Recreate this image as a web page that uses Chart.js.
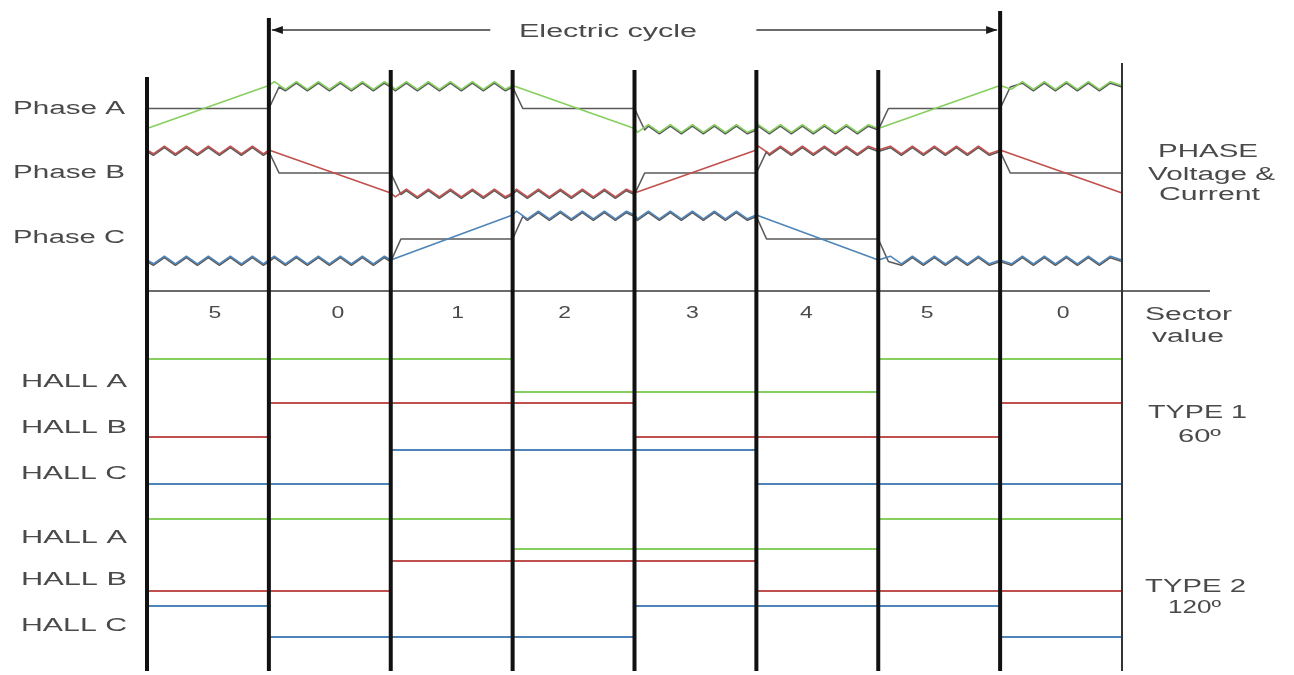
<!DOCTYPE html>
<html>
<head>
<meta charset="utf-8">
<script src="https://cdn.jsdelivr.net/npm/chart.js@4.4.1/dist/chart.umd.min.js"></script>
<style>
  html, body { margin: 0; padding: 0; background: #ffffff; }
  #wrap { width: 1294px; height: 675px; position: relative; }
</style>
</head>
<body>
<div id="wrap"><canvas id="timing"></canvas></div>
<script>
// ---- Data -------------------------------------------------------------
// Electrical angle (degrees) at each sector boundary
const boundaries = [-60, 0, 60, 120, 180, 240, 300, 360, 420];
// Sector number shown inside each 60° slot
const sectorValues = [5, 0, 1, 2, 3, 4, 5, 0];

// Phase voltage level at each boundary: +1 high, -1 low
const phaseAVoltage = [-1, 1, 1, 1, -1, -1, -1, 1, 1];
const phaseBVoltage = [1, 1, -1, -1, -1, 1, 1, 1, -1];
const phaseCVoltage = [-1, -1, -1, 1, 1, 1, -1, -1, -1];

// Phase drive per sector: +1 high side, -1 low side, 0 floating
const phaseADrive = [0, 1, 1, 0, -1, -1, 0, 1];
const phaseBDrive = [1, 0, -1, -1, 0, 1, 1, 0];
const phaseCDrive = [-1, -1, 0, 1, 1, 0, -1, -1];

// Hall sensor states per sector, 60° sensor spacing
const hallA60 = [1, 1, 1, 0, 0, 0, 1, 1];
const hallB60 = [0, 1, 1, 1, 0, 0, 0, 1];
const hallC60 = [0, 0, 1, 1, 1, 0, 0, 0];
// Hall sensor states per sector, 120° sensor spacing
const hallA120 = [1, 1, 1, 0, 0, 0, 1, 1];
const hallB120 = [0, 0, 1, 1, 1, 0, 0, 0];
const hallC120 = [1, 0, 0, 0, 1, 1, 1, 0];

// ---- Layout & style ---------------------------------------------------
// Vertical track placement, in y-scale units (scale runs top to bottom)
const PHASE_TRACK = {
  A: { mid: 107, swing: 21.5 },
  B: { mid: 171.5, swing: 21.5 },
  C: { mid: 237.5, swing: 22.5 }
};
const HALL_TRACK = {
  A60: { high: 359, low: 392 },
  B60: { high: 403, low: 437 },
  C60: { high: 450, low: 484 },
  A120: { high: 519, low: 549 },
  B120: { high: 561, low: 591 },
  C120: { high: 606, low: 637 }
};
const RAMP_DEG = 5;            // commutation slope width of the drive trace
const RIPPLE = { amp: 3.8, period: 22 };
const COLORS = {
  green: '#86cf5e',
  red: '#c0504d',
  blue: '#4f84b8',
  drive: '#5a5a5a',
  ink: '#4a4a4a'
};
const FONT = '"Liberation Sans", Arial, sans-serif';

// ---- Builders ---------------------------------------------------------
const X_MIN = boundaries[0];
const X_MAX = boundaries[boundaries.length - 1];

function voltagePoints(levels, track) {
  return boundaries.map((x, i) => ({ x, y: track.mid - levels[i] * track.swing, level: levels[i] }));
}

function drivePoints(levels, track) {
  const pts = [{ x: boundaries[0], level: levels[0] }];
  for (let i = 1; i < levels.length; i++) {
    const b = boundaries[i];
    if (levels[i] !== levels[i - 1]) {
      pts.push({ x: b, level: levels[i - 1] });
      pts.push({ x: b + RAMP_DEG, level: levels[i] });
    } else {
      pts.push({ x: b, level: levels[i] });
    }
  }
  pts.push({ x: X_MAX, level: levels[levels.length - 1] });
  return pts.map(p => ({ x: p.x, y: track.mid - p.level * track.swing, level: p.level }));
}

function hallPoints(levels, track) {
  const pts = levels.map((v, i) => ({ x: boundaries[i], y: v ? track.high : track.low }));
  pts.push({ x: X_MAX, y: levels[levels.length - 1] ? track.high : track.low });
  return pts;
}

function rippleSet(label, data, color, dy) {
  return { label, data, borderColor: color, ripple: true, rippleShift: dy,
           showLine: false, pointRadius: 0, borderWidth: 1.6 };
}
function hallSet(label, data, color) {
  return { label, data, borderColor: color, stepped: true, showLine: true,
           pointRadius: 0, borderWidth: 2, fill: false };
}

const datasets = [
  rippleSet('Phase A drive', drivePoints(phaseADrive, PHASE_TRACK.A), COLORS.drive, 1.5),
  rippleSet('Phase B drive', drivePoints(phaseBDrive, PHASE_TRACK.B), COLORS.drive, 1.5),
  rippleSet('Phase C drive', drivePoints(phaseCDrive, PHASE_TRACK.C), COLORS.drive, 1.5),
  rippleSet('Phase A voltage', voltagePoints(phaseAVoltage, PHASE_TRACK.A), COLORS.green, 0),
  rippleSet('Phase B voltage', voltagePoints(phaseBVoltage, PHASE_TRACK.B), COLORS.red, 0),
  rippleSet('Phase C voltage', voltagePoints(phaseCVoltage, PHASE_TRACK.C), COLORS.blue, 0),
  hallSet('HALL A 60', hallPoints(hallA60, HALL_TRACK.A60), COLORS.green),
  hallSet('HALL B 60', hallPoints(hallB60, HALL_TRACK.B60), COLORS.red),
  hallSet('HALL C 60', hallPoints(hallC60, HALL_TRACK.C60), COLORS.blue),
  hallSet('HALL A 120', hallPoints(hallA120, HALL_TRACK.A120), COLORS.green),
  hallSet('HALL B 120', hallPoints(hallB120, HALL_TRACK.B120), COLORS.red),
  hallSet('HALL C 120', hallPoints(hallC120, HALL_TRACK.C120), COLORS.blue)
];

// ---- Decorations ------------------------------------------------------
// Top of each sector boundary line (y-scale units); all end at LINE_BOTTOM
const LINE_TOP = [77, 18, 70, 70, 70, 70, 70, 11, 63];
const LINE_BOTTOM = 671;
const SECTOR_RULE_Y = 291;
const SECTOR_LABEL_BASE = 318;
const SECTOR_LABEL_SHIFT = [7, 8, 6, -9, -3, -11, -12, 2];
const CYCLE = { y: 30, gapFrom: 109, gapTo: 240 };

// Text labels: [text, left px, baseline px, width px]
const LABELS = [
  ['Phase A', 13, 114, 112],
  ['Phase B', 13, 178, 112],
  ['Phase C', 13, 243, 112],
  ['HALL A', 21, 387, 106],
  ['HALL B', 21, 433, 106],
  ['HALL C', 21, 479, 106],
  ['HALL A', 21, 543, 106],
  ['HALL B', 21, 585, 106],
  ['HALL C', 21, 631, 106],
  ['Electric cycle', 519, 37, 178],
  ['PHASE', 1158, 157, 100],
  ['Voltage &', 1148, 180, 127],
  ['Current', 1159, 200, 101],
  ['Sector', 1145, 320, 87],
  ['value', 1152, 342, 72],
  ['TYPE 1', 1148, 418, 99],
  ['60º', 1178, 442, 43],
  ['TYPE 2', 1145, 592, 101],
  ['120º', 1168, 613, 53]
];

function fitText(ctx, str, left, baseline, width, size) {
  ctx.save();
  ctx.font = size + 'px ' + FONT;
  const w = ctx.measureText(str).width;
  ctx.translate(left, baseline);
  ctx.scale(width / w, 1);
  ctx.textBaseline = 'alphabetic';
  ctx.textAlign = 'left';
  ctx.fillText(str, 0, 0);
  ctx.restore();
}

// Flat conducting stretches are drawn with a ripple locked to a common
// phase origin so that voltage and drive traces ripple together.
function strokeRipple(ctx, pts, raw, dy, origin) {
  const half = RIPPLE.period / 2;
  ctx.beginPath();
  ctx.moveTo(pts[0].x, pts[0].y + dy);
  for (let i = 1; i < pts.length; i++) {
    const p0 = pts[i - 1], p1 = pts[i];
    const flat = raw[i - 1].level === raw[i].level && raw[i].level !== 0;
    if (flat) {
      const base = p0.y + dy;
      // peaks at origin + half/2 + k*half, alternating up / down
      let k = Math.ceil((p0.x - origin - half / 2) / half);
      let xp = origin + half / 2 + k * half;
      if (xp - p0.x < 2) { k++; xp += half; }
      while (xp < p1.x - 2) {
        const sign = (((k % 2) + 2) % 2) === 0 ? -1 : 1;
        ctx.lineTo(xp, base + sign * RIPPLE.amp);
        k++; xp += half;
      }
      ctx.lineTo(p1.x, p1.y + dy);
    } else {
      ctx.lineTo(p1.x, p1.y + dy);
    }
  }
  ctx.stroke();
}

const diagramPlugin = {
  id: 'diagram',
  afterDatasetsDraw(chart) {
    const ctx = chart.ctx;
    const xs = chart.scales.x, ys = chart.scales.y;
    const area = chart.chartArea;
    const origin = xs.getPixelForValue(0);

    // phase traces with current ripple on conducting stretches
    ctx.save();
    ctx.lineJoin = 'round';
    chart.data.datasets.forEach((ds, di) => {
      if (!ds.ripple) return;
      const meta = chart.getDatasetMeta(di);
      ctx.strokeStyle = ds.borderColor;
      ctx.lineWidth = ds.borderWidth;
      strokeRipple(ctx, meta.data, ds.data, ds.rippleShift, origin);
    });
    ctx.restore();

    // sector value rule
    ctx.save();
    ctx.strokeStyle = '#6a6a6a';
    ctx.lineWidth = 2;
    ctx.beginPath();
    ctx.moveTo(xs.getPixelForValue(X_MIN), ys.getPixelForValue(SECTOR_RULE_Y));
    ctx.lineTo(area.right + 88, ys.getPixelForValue(SECTOR_RULE_Y));
    ctx.stroke();
    ctx.restore();

    // sector boundary lines
    ctx.save();
    boundaries.forEach((b, i) => {
      const x = xs.getPixelForValue(b);
      const last = i === boundaries.length - 1;
      ctx.strokeStyle = last ? '#333333' : '#111111';
      ctx.lineWidth = last ? 2 : 4;
      ctx.beginPath();
      ctx.moveTo(x, ys.getPixelForValue(LINE_TOP[i]));
      ctx.lineTo(x, ys.getPixelForValue(LINE_BOTTOM));
      ctx.stroke();
    });
    ctx.restore();

    // electric cycle span arrow
    ctx.save();
    const y = ys.getPixelForValue(CYCLE.y);
    const x0 = xs.getPixelForValue(0) + 3;
    const x1 = xs.getPixelForValue(360) - 3;
    ctx.strokeStyle = '#3a3a3a';
    ctx.fillStyle = '#1a1a1a';
    ctx.lineWidth = 1.5;
    ctx.beginPath();
    ctx.moveTo(x0, y);
    ctx.lineTo(xs.getPixelForValue(CYCLE.gapFrom), y);
    ctx.moveTo(xs.getPixelForValue(CYCLE.gapTo), y);
    ctx.lineTo(x1, y);
    ctx.stroke();
    ctx.beginPath();
    ctx.moveTo(x0, y); ctx.lineTo(x0 + 11, y - 4); ctx.lineTo(x0 + 11, y + 4); ctx.closePath();
    ctx.moveTo(x1, y); ctx.lineTo(x1 - 11, y - 4); ctx.lineTo(x1 - 11, y + 4); ctx.closePath();
    ctx.fill();
    ctx.restore();

    // sector numbers
    ctx.save();
    ctx.fillStyle = COLORS.ink;
    ctx.font = '17px ' + FONT;
    sectorValues.forEach((v, i) => {
      const cx = xs.getPixelForValue((boundaries[i] + boundaries[i + 1]) / 2) + SECTOR_LABEL_SHIFT[i];
      const str = String(v);
      const w = ctx.measureText(str).width * 1.35;
      fitText(ctx, str, cx - w / 2, ys.getPixelForValue(SECTOR_LABEL_BASE), w, 17);
    });
    ctx.restore();

    // captions
    ctx.save();
    ctx.fillStyle = COLORS.ink;
    LABELS.forEach(([t, l, b, w]) => fitText(ctx, t, l, b, w, 18));
    ctx.restore();
  }
};

new Chart(document.getElementById('timing'), {
  type: 'line',
  data: { datasets },
  options: {
    responsive: true,
    maintainAspectRatio: false,
    animation: false,
    events: [],
    layout: { padding: { left: 147, right: 172, top: 0, bottom: 0 } },
    scales: {
      x: { type: 'linear', min: X_MIN, max: X_MAX, display: false },
      y: { type: 'linear', min: 0, max: 675, reverse: true, display: false }
    },
    plugins: { legend: { display: false }, tooltip: { enabled: false } },
    elements: { line: { tension: 0 } }
  },
  plugins: [diagramPlugin]
});
</script>
</body>
</html>
